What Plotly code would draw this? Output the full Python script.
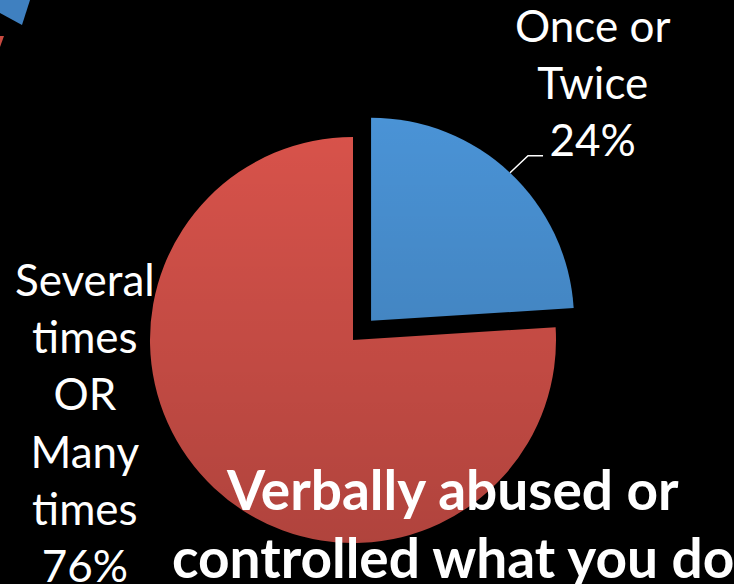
import base64
import math
import plotly.graph_objects as go

# Survey answers for "Verbally abused or controlled what you do"
labels = ["Once or<br>Twice", "Several<br>times<br>OR<br>Many<br>times"]
shares = [24, 76]
colors = ["#4a93d6", "#d9534b"]
pulls = [0.13, 0.0]
title_lines = ["Verbally abused or", "controlled what you do"]

W, H = 734, 584
FONT = "Lato"


def fx(px):
    return px / W


def fy(py):
    return 1 - py / H


# pie placement (pixels)
cx, cy, half = 353, 340, 229.4

fig = go.Figure(
    go.Pie(
        labels=[l.replace("<br>", " ") for l in labels],
        values=shares,
        sort=False,
        direction="clockwise",
        rotation=0,
        pull=pulls,
        marker=dict(colors=colors, line=dict(width=0)),
        textinfo="none",
        hoverinfo="skip",
        showlegend=False,
        domain=dict(
            x=[fx(cx - half), fx(cx + half)],
            y=[fy(cy + half), fy(cy - half)],
        ),
    )
)

# soft top-to-bottom shading laid over the slices
svg = (
    '<svg xmlns="http://www.w3.org/2000/svg" width="100" height="100" '
    'viewBox="0 0 100 100" preserveAspectRatio="none">'
    '<defs><linearGradient id="g" x1="0" y1="0" x2="0" y2="1">'
    '<stop offset="0" stop-color="#000" stop-opacity="0"/>'
    '<stop offset="1" stop-color="#000" stop-opacity="0.19"/>'
    "</linearGradient></defs>"
    '<rect width="100" height="100" fill="url(#g)"/></svg>'
)
shade_uri = "data:image/svg+xml;base64," + base64.b64encode(svg.encode()).decode()
top_px, bot_px = 116, 546
fig.add_layout_image(
    source=shade_uri,
    xref="paper", yref="paper",
    x=fx(148), y=fy(top_px),
    sizex=fx(580) - fx(148), sizey=(bot_px - top_px) / H,
    xanchor="left", yanchor="top",
    sizing="stretch", layer="above",
)

# leader line from the middle of the pulled slice's arc
r = half / (1 + max(pulls))
mid = math.radians(shares[0] / sum(shares) * 360 / 2)
ox = cx + pulls[0] * r * math.sin(mid)
oy = cy - pulls[0] * r * math.cos(mid)
sx = ox + r * math.sin(mid)
sy = oy - r * math.cos(mid)
path = f"M {fx(sx)} {fy(sy)} L {fx(sx + 18)} {fy(sy - 17)} L {fx(sx + 33)} {fy(sy - 17)}"
fig.add_shape(type="path", path=path, xref="paper", yref="paper",
              line=dict(color="white", width=1.5), layer="above")

# corner of the neighbouring chart
fig.add_shape(type="path", xref="paper", yref="paper", layer="below",
              path=f"M {fx(0)} {fy(0)} L {fx(30)} {fy(0)} L {fx(22)} {fy(25)} L {fx(0)} {fy(13)} Z",
              fillcolor="#3f80c0", line=dict(width=0))
fig.add_shape(type="path", xref="paper", yref="paper", layer="below",
              path=f"M {fx(0)} {fy(36)} L {fx(4)} {fy(36)} L {fx(0)} {fy(47)} Z",
              fillcolor="#c94a40", line=dict(width=0))

label_pos = [(592, 82), (85, 422)]
for lab, val, (lx, ly) in zip(labels, shares, label_pos):
    fig.add_annotation(
        text=f"{lab}<br>{val}%", x=fx(lx), y=fy(ly), xref="paper", yref="paper",
        xanchor="center", yanchor="middle", showarrow=False, align="center",
        font=dict(family=FONT, size=44, color="white"),
    )

for line, ly in zip(title_lines, [489, 557]):
    fig.add_annotation(
        text=f"<b>{line}</b>",
        x=fx(453), y=fy(ly), xref="paper", yref="paper",
        xanchor="center", yanchor="middle", showarrow=False, align="center",
        font=dict(family=FONT, size=55, color="white"),
    )

fig.update_layout(
    width=W, height=H,
    margin=dict(l=0, r=0, t=0, b=0),
    paper_bgcolor="black", plot_bgcolor="black",
)

fig.write_html("out.html")
